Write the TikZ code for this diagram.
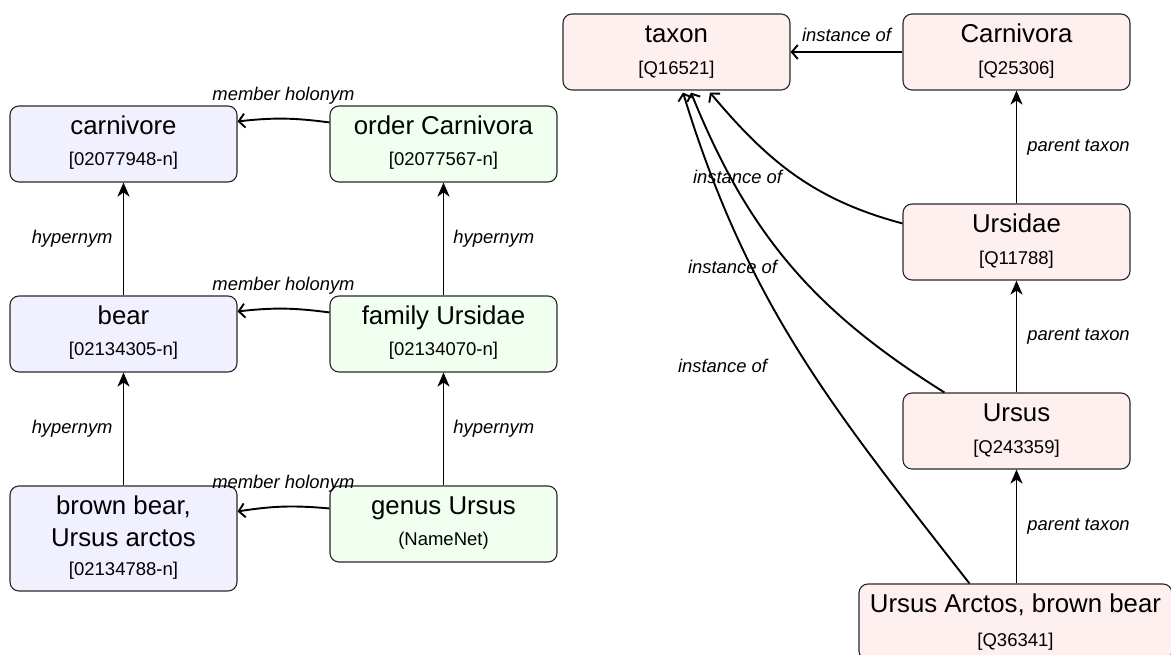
\documentclass[tikz,border=0pt]{standalone}
\usepackage{fontspec}
\setmainfont{Liberation Sans}
\usetikzlibrary{arrows.meta}
\definecolor{lav}{RGB}{240,240,255}
\definecolor{mint}{RGB}{240,255,240}
\definecolor{rose}{RGB}{255,240,240}
\definecolor{boxline}{RGB}{40,40,40}
\begin{document}
\begin{tikzpicture}[x=1pt,y=-1pt,
  box/.style={draw=boxline, line width=1.1pt, rounded corners=9pt, inner sep=0pt, minimum width=227pt, minimum height=76pt},
  mainf/.style={font=\fontsize{25.8}{31}\selectfont, inner sep=0pt, anchor=base},
  idf/.style={font=\fontsize{18.5}{22}\selectfont, inner sep=0pt, anchor=base},
  lab/.style={font=\fontsize{18.4}{22}\selectfont\itshape, inner sep=0pt},
  isa/.style={line width=1.9pt, -{Stealth[length=14pt,width=12pt,inset=4pt]}},
  rel/.style={line width=1.9pt, -{Straight Barb[length=6pt,width=14pt]}}]
\useasboundingbox (0,0) rectangle (1171,655);

% left column (WordNet)
\node[box, fill=lav] (carn) at (123.5,144) {};
\node[mainf] (carn-t) at ([yshift=-29pt]carn.north) {carnivore};
\node[idf] (carn-i) at ([yshift=-60pt]carn.north) {[02077948-n]};

\node[box, fill=lav] (bear) at (123.5,334) {};
\node[mainf] (bear-t) at ([yshift=-29pt]bear.north) {bear};
\node[idf] (bear-i) at ([yshift=-60pt]bear.north) {[02134305-n]};

\node[box, fill=lav, minimum height=105pt] (brown) at (123.5,538.5) {};
\node[mainf] (brown-t) at ([yshift=-29.5pt]brown.north) {brown bear,};
\node[mainf] (brown-u) at ([yshift=-61pt]brown.north) {Ursus arctos};
\node[idf] (brown-i) at ([yshift=-90pt]brown.north) {[02134788-n]};

\node[box, fill=mint] (ordC) at (443.5,144) {};
\node[mainf] (ordC-t) at ([yshift=-29pt]ordC.north) {order Carnivora};
\node[idf] (ordC-i) at ([yshift=-60pt]ordC.north) {[02077567-n]};

\node[box, fill=mint] (famU) at (443.5,334) {};
\node[mainf] (famU-t) at ([yshift=-29pt]famU.north) {family Ursidae};
\node[idf] (famU-i) at ([yshift=-60pt]famU.north) {[02134070-n]};

\node[box, fill=mint] (genus) at (443.5,524) {};
\node[mainf] (genus-t) at ([yshift=-29pt]genus.north) {genus Ursus};
\node[idf] (genus-i) at ([yshift=-60pt]genus.north) {(NameNet)};

% right column (Wikidata)
\node[box, fill=rose] (taxon) at (676.5,52) {};
\node[mainf] (taxon-t) at ([yshift=-29pt]taxon.north) {taxon};
\node[idf] (taxon-i) at ([yshift=-61pt]taxon.north) {[Q16521]};

\node[box, fill=rose] (carnv) at (1016.5,52) {};
\node[mainf] (carnv-t) at ([yshift=-29pt]carnv.north) {Carnivora};
\node[idf] (carnv-i) at ([yshift=-61pt]carnv.north) {[Q25306]};

\node[box, fill=rose] (ursidae) at (1016.5,242) {};
\node[mainf] (ursidae-t) at ([yshift=-29pt]ursidae.north) {Ursidae};
\node[idf] (ursidae-i) at ([yshift=-61pt]ursidae.north) {[Q11788]};

\node[box, fill=rose] (ursus) at (1016.5,431) {};
\node[mainf] (ursus-t) at ([yshift=-29pt]ursus.north) {Ursus};
\node[idf] (ursus-i) at ([yshift=-61pt]ursus.north) {[Q243359]};

\node[box, fill=rose, minimum width=313pt] (arctos) at (1015.5,622) {};
\node[mainf] (arctos-t) at ([yshift=-29pt]arctos.north) {Ursus Arctos, brown bear};
\node[idf] (arctos-i) at ([yshift=-63pt]arctos.north) {[Q36341]};

% hypernym edges
\draw[isa] (bear) -- node[lab, left=10pt] (hy1) {hypernym} (carn);
\draw[isa] (brown) -- node[lab, left=10pt] (hy2) {hypernym} (bear);
\draw[isa] (famU) -- node[lab, right=9pt] (hy3) {hypernym} (ordC);
\draw[isa] (genus) -- node[lab, right=9pt] (hy4) {hypernym} (famU);

% member holonym edges
\draw[rel] ([yshift=-17pt]ordC.north west) to[bend right=7] node[lab, above=13pt] (mh1) {member holonym} ([yshift=-16pt]carn.north east);
\draw[rel] ([yshift=-17pt]famU.north west) to[bend right=7] node[lab, above=13pt] (mh2) {member holonym} ([yshift=-16pt]bear.north east);
\draw[rel] ([yshift=-23pt]genus.north west) to[bend right=7] node[lab, above=13pt] (mh3) {member holonym} ([yshift=-26pt]brown.north east);

% parent taxon edges
\draw[isa] (ursidae) -- node[lab, right=10pt] (pt1) {parent taxon} (carnv);
\draw[isa] (ursus) -- node[lab, right=10pt] (pt2) {parent taxon} (ursidae);
\draw[isa] (arctos.north -| ursus.south) -- node[lab, right=10pt] (pt3) {parent taxon} (ursus.south);

% instance of edges
\draw[rel] (carnv) -- node[lab, above=9pt] (io0) {instance of} (taxon);
\node[lab] (io1) at (737.5,176.5) {instance of};
\node[lab] (io2) at (732.5,267) {instance of};
\node[lab] (io3) at (722.5,366) {instance of};
\draw[rel] ([yshift=-20pt]ursidae.north west) to[out=165,in=-50] ([xshift=33.5pt,yshift=-2pt]taxon.south);
\draw[rel] ([xshift=42pt]ursus.north west) to[out=148,in=-68] ([xshift=14.5pt,yshift=-2pt]taxon.south);
\draw[rel] ([xshift=111pt]arctos.north west) to[out=128,in=-73] ([xshift=6.5pt,yshift=-2pt]taxon.south);
\end{tikzpicture}
\end{document}
